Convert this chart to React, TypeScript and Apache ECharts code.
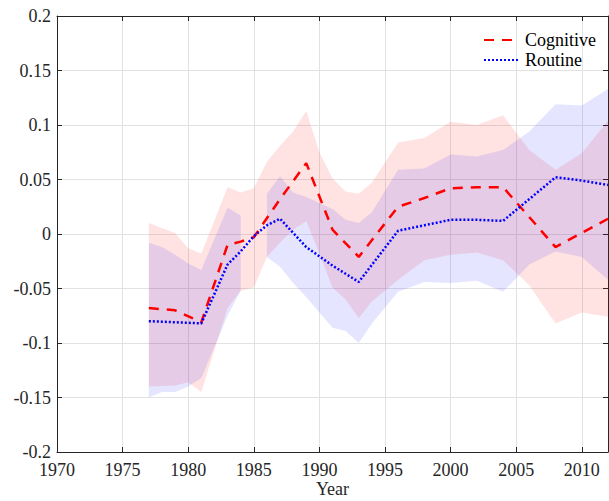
import React, { useEffect, useRef } from "react";
import * as echarts from "echarts";

// Lines
const cogYears = [1977, 1979, 1981, 1983, 1984, 1985, 1987, 1989, 1991, 1993, 1996, 1998, 2000, 2002, 2004, 2008, 2010, 2012];
const cogValues = [-0.068, -0.07, -0.081, -0.01, -0.007, -0.003, 0.032, 0.065, 0.004, -0.021, 0.025, 0.033, 0.042, 0.043, 0.043, -0.012, 0.001, 0.014];

const rouYears = [1977, 1979, 1981, 1983, 1984, 1985, 1986, 1987, 1989, 1991, 1993, 1996, 1998, 2000, 2002, 2004, 2008, 2010, 2012];
const rouValues = [-0.08, -0.081, -0.082, -0.028, -0.016, -0.002, 0.008, 0.014, -0.012, -0.029, -0.044, 0.003, 0.008, 0.013, 0.013, 0.012, 0.052, 0.049, 0.045];

// Confidence bands
const cogBandYears = [1977, 1979, 1980, 1981, 1983, 1984, 1985, 1986, 1987, 1988, 1989, 1990, 1991, 1992, 1993, 1994, 1996, 1998, 2000, 2002, 2004, 2006, 2008, 2010, 2012];
const cogUpper = [0.01, 0.001, -0.013, -0.018, 0.043, 0.038, 0.042, 0.066, 0.081, 0.094, 0.113, 0.075, 0.051, 0.039, 0.037, 0.047, 0.084, 0.088, 0.103, 0.1, 0.109, 0.077, 0.059, 0.074, 0.104];
const cogLower = [-0.14, -0.139, -0.136, -0.145, -0.068, -0.052, -0.049, -0.021, -0.008, 0.004, 0.012, -0.018, -0.049, -0.06, -0.077, -0.062, -0.042, -0.024, -0.019, -0.017, -0.024, -0.047, -0.082, -0.072, -0.076];

const rouBandYearsA = [1977, 1978, 1979, 1980, 1981, 1983, 1984];
const rouUpperA = [-0.008, -0.012, -0.019, -0.027, -0.033, 0.024, 0.017];
const rouLowerA = [-0.15, -0.145, -0.145, -0.14, -0.132, -0.075, -0.052];

const rouBandYearsB = [1986, 1987, 1988, 1989, 1991, 1992, 1993, 1994, 1996, 1998, 2000, 2002, 2004, 2006, 2008, 2010, 2012];
const rouUpperB = [0.037, 0.053, 0.038, 0.034, 0.023, 0.013, 0.01, 0.02, 0.059, 0.06, 0.073, 0.071, 0.077, 0.094, 0.119, 0.118, 0.133];
const rouLowerB = [-0.021, -0.03, -0.045, -0.058, -0.086, -0.089, -0.1, -0.082, -0.053, -0.044, -0.045, -0.043, -0.053, -0.028, -0.016, -0.021, -0.042];

const xTicks = { min: 1970, max: 2012, interval: 5 };
const yTicks = { min: -0.2, max: 0.2, interval: 0.05 };

const FONT = "Liberation Serif";
const AXIS = "#262626";

type Piece = { years: number[]; hi: number[]; lo: number[] };

function bandSeries(name: string, pieces: Piece[], color: string, z: number) {
  return {
    type: "custom",
    name,
    silent: true,
    z,
    clip: true,
    data: pieces.map((p, i) => [p.years[0], p.lo[0], i]),
    renderItem: (params: any, api: any) => {
      const p = pieces[params.dataIndex];
      const pts: number[][] = [];
      for (let k = 0; k < p.years.length; k++) pts.push(api.coord([p.years[k], p.hi[k]]));
      for (let k = p.years.length - 1; k >= 0; k--) pts.push(api.coord([p.years[k], p.lo[k]]));
      return {
        type: "polygon",
        shape: { points: pts },
        style: { fill: color, stroke: "none" },
        silent: true,
      };
    },
  };
}

export default function App() {
  const ref = useRef<HTMLDivElement>(null);
  useEffect(() => {
    document.body.style.margin = "0";
    const chart = echarts.init(ref.current!, null, { renderer: "svg" });
    const baseX = {
      type: "value",
      min: xTicks.min,
      max: xTicks.max,
      interval: xTicks.interval,
      axisLine: { show: true, onZero: false, lineStyle: { color: AXIS, width: 1 } },
      axisTick: { show: true, inside: true, length: 5, lineStyle: { color: AXIS } },
    };
    const baseY = {
      type: "value",
      min: yTicks.min,
      max: yTicks.max,
      interval: yTicks.interval,
      axisLine: { show: true, onZero: false, lineStyle: { color: AXIS, width: 1 } },
      axisTick: { show: true, inside: true, length: 5, lineStyle: { color: AXIS } },
    };
    chart.setOption({
      animation: false,
      backgroundColor: "#ffffff",
      grid: { left: 57, top: 16, right: 1, bottom: 49, containLabel: false, outerBoundsMode: "none" },
      legend: {
        data: [
          { name: "Cognitive", itemStyle: { opacity: 0 } },
          { name: "Routine", itemStyle: { opacity: 0 } },
        ],
        orient: "vertical",
        left: 478,
        top: 26,
        itemWidth: 36,
        itemHeight: 14,
        itemGap: 2,
        selectedMode: false,
        textStyle: { fontFamily: FONT, fontSize: 18, color: "#000", lineHeight: 18 },
      },
      xAxis: [
        {
          ...baseX,
          position: "bottom",
          axisLabel: {
            fontFamily: FONT,
            fontSize: 18,
            color: AXIS,
            margin: 9,
            formatter: (v: number) => (v % 5 === 0 ? String(v) : ""),
          },
          splitLine: { show: true, lineStyle: { color: "#e2e2e2", width: 1 } },
          name: "Year",
          nameLocation: "middle",
          nameGap: 28,
          nameMoveOverlap: false,
          nameTextStyle: { fontFamily: FONT, fontSize: 18, color: AXIS, lineHeight: 18 },
        },
        {
          ...baseX,
          position: "top",
          axisLabel: { show: false },
          splitLine: { show: false },
        },
      ],
      yAxis: [
        {
          ...baseY,
          position: "left",
          axisLabel: { fontFamily: FONT, fontSize: 18, color: AXIS, margin: 6 },
          splitLine: { show: true, lineStyle: { color: "#e2e2e2", width: 1 } },
        },
        {
          ...baseY,
          position: "right",
          axisLabel: { show: false },
          splitLine: { show: false },
        },
      ],
      series: [
        bandSeries("Cognitive band", [{ years: cogBandYears, hi: cogUpper, lo: cogLower }], "rgba(255,0,0,0.115)", 1),
        bandSeries(
          "Routine band",
          [
            { years: rouBandYearsA, hi: rouUpperA, lo: rouLowerA },
            { years: rouBandYearsB, hi: rouUpperB, lo: rouLowerB },
          ],
          "rgba(0,0,255,0.1)",
          2
        ),
        {
          type: "line",
          name: "Cognitive",
          z: 5,
          symbol: "none",
          data: cogYears.map((y, i) => [y, cogValues[i]]),
          lineStyle: { color: "#ff0000", width: 2.5, type: [10, 8], cap: "butt" },
          itemStyle: { color: "#ff0000" },
        },
        {
          type: "line",
          name: "Routine",
          z: 6,
          symbol: "none",
          data: rouYears.map((y, i) => [y, rouValues[i]]),
          lineStyle: { color: "#0000ff", width: 2.5, type: [2, 2], cap: "butt" },
          itemStyle: { color: "#0000ff" },
        },
      ],
    });
    return () => chart.dispose();
  }, []);
  return (
    <div
      ref={ref}
      style={{ position: "fixed", left: 0, top: 0, width: 609, height: 501, background: "#fff" }}
    />
  );
}
